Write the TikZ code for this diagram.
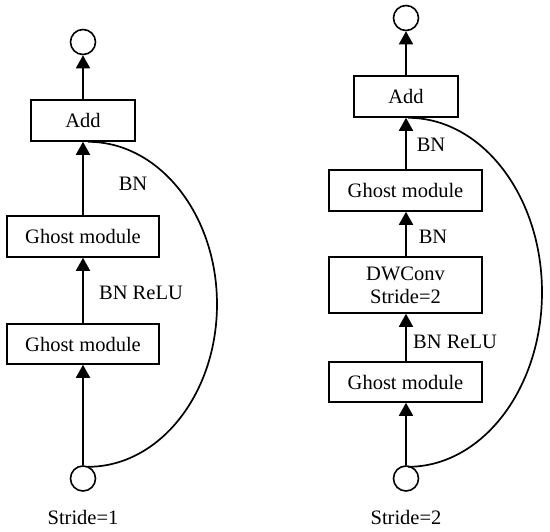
\documentclass[tikz,border=0pt]{standalone}
\usepackage{fontspec}
\setmainfont{Liberation Serif}
\usetikzlibrary{arrows.meta}
\begin{document}
\begin{tikzpicture}[x=1pt,y=1pt,
  every node/.style={font=\fontsize{20.5}{24}\selectfont},
  blk/.style={draw,line width=1.6pt,inner sep=0pt,minimum height=41pt,align=center},
  io/.style={draw,circle,line width=1.6pt,inner sep=0pt,minimum size=25pt},
  lbl/.style={inner sep=0pt},
  flow/.style={line width=1.8pt,-{Triangle[length=13pt,width=14pt]}},
  skip/.style={line width=1.7pt}]
\useasboundingbox (0,0) rectangle (550,-532);
% left
\node[io] (oL) at (83,-42) {};
\node[blk,minimum width=104pt] (addL) at (83,-120.5) {Add};
\node[blk,minimum width=152pt] (g2L) at (83,-236.5) {Ghost module};
\node[blk,minimum width=152pt,minimum height=40pt] (g1L) at (83,-344) {Ghost module};
\node[io] (iL) at (83,-478.5) {};
\node[lbl] (bnL) at (133,-184) {BN};
\node[lbl] (brL) at (141,-293) {BN ReLU};
\node[lbl] (sL) at (83,-517) {Stride=1};
\draw[flow] (iL) -- (g1L);
\draw[flow] (g1L) -- (g2L);
\draw[flow] (g2L) -- (addL);
\draw[flow] (addL) -- (oL);
\draw[skip] ([xshift=5pt]addL.south) arc[start angle=90,end angle=-90,x radius=129,y radius=162.5];
% right
\node[io] (oR) at (406,-18) {};
\node[blk,minimum width=104pt] (addR) at (406,-96.5) {Add};
\node[blk,minimum width=153pt] (g2R) at (405.5,-190.5) {Ghost module};
\node[blk,minimum width=153pt,minimum height=56pt] (dwR) at (405.5,-285) {DWConv\\[-1pt]Stride=2};
\node[blk,minimum width=153pt,minimum height=40pt] (g1R) at (405.5,-382) {Ghost module};
\node[io] (iR) at (406,-478.5) {};
\node[lbl] (bnR2) at (431,-145) {BN};
\node[lbl] (bnR1) at (433,-237) {BN};
\node[lbl] (brR) at (455,-342) {BN ReLU};
\node[lbl] (sR) at (406,-517) {Stride=2};
\draw[flow] (iR) -- (iR |- g1R.south);
\draw[flow] (g1R.north -| iR) -- (iR |- dwR.south);
\draw[flow] (dwR.north -| iR) -- (iR |- g2R.south);
\draw[flow] (g2R.north -| iR) -- (addR);
\draw[flow] (addR) -- (oR);
\draw[skip] ([xshift=2pt]addR.south) arc[start angle=90,end angle=-90,x radius=134,y radius=174.5];
\end{tikzpicture}
\end{document}
